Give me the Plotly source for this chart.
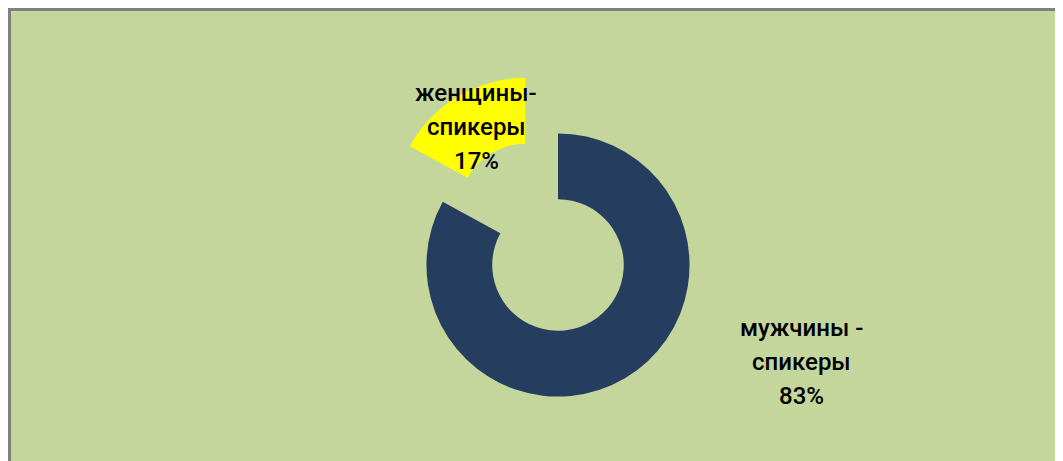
import plotly.graph_objects as go

labels = ["мужчины -", "женщины-"]
sublabel = "спикеры"
values = [83, 17]
colors = ["#253E5F", "#FFFF00"]
pulls = [0, 0.49]

W, H = 1063, 461
L, T, R, B = 37, 61, 0, 8
PW, PH = W - L - R, H - T - B

fig = go.Figure(go.Pie(
    labels=labels,
    values=values,
    hole=0.5,
    sort=False,
    direction="clockwise",
    rotation=0,
    pull=pulls,
    marker=dict(colors=colors, line=dict(width=0)),
    textinfo="none",
    hoverinfo="label+percent",
    showlegend=False,
))

def px2x(px):
    return (px - L) / PW

def py2y(py):
    return 1 - (py - T) / PH

total = sum(values)
# (center x, first line y) in figure pixels, line spacing
label_pos = [(793, 320), (468, 85)]
LS = 34
annotations = []
for lab, v, (px, py) in zip(labels, values, label_pos):
    lines = [lab, sublabel, f"{round(100 * v / total)}%"]
    for i, line in enumerate(lines):
        annotations.append(dict(
            text=line,
            x=px2x(px), y=py2y(py + i * LS), xref="paper", yref="paper",
            xanchor="center", yanchor="middle", showarrow=False,
            font=dict(family="Roboto", size=24, color="#000000", weight=500),
            align="center",
        ))

fig.update_layout(
    width=W, height=H,
    margin=dict(l=L, r=R, t=T, b=B),
    paper_bgcolor="#C4D69C",
    plot_bgcolor="#C4D69C",
    annotations=annotations,
    shapes=[dict(
        type="rect", xref="paper", yref="paper", layer="below",
        x0=px2x(1.5), x1=px2x(W + 20), y0=py2y(H + 20), y1=py2y(1.5),
        fillcolor="#C4D69C", line=dict(color="#808080", width=3),
    )],
)

fig.write_html("out.html")
